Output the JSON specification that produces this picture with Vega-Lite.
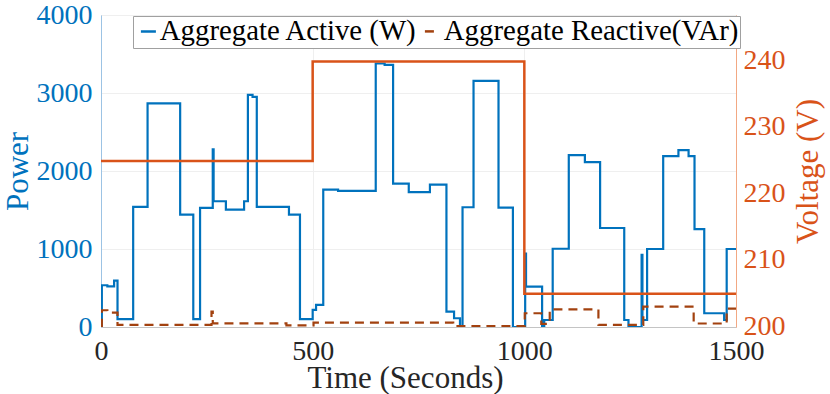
{
  "$schema": "https://vega.github.io/schema/vega-lite/v6.json",
  "autosize": {"type": "none"},
  "width": 635,
  "height": 312,
  "padding": {"left": 101, "top": 15, "right": 94, "bottom": 67},
  "background": "white",
  "datasets": {
    "power": [
      {"t": 0, "p": 0, "s": "Aggregate Active (W)"},
      {"t": 2, "p": 535, "s": "Aggregate Active (W)"},
      {"t": 15, "p": 520, "s": "Aggregate Active (W)"},
      {"t": 31, "p": 595, "s": "Aggregate Active (W)"},
      {"t": 39, "p": 100, "s": "Aggregate Active (W)"},
      {"t": 76, "p": 1540, "s": "Aggregate Active (W)"},
      {"t": 110, "p": 2868, "s": "Aggregate Active (W)"},
      {"t": 187, "p": 1440, "s": "Aggregate Active (W)"},
      {"t": 218, "p": 100, "s": "Aggregate Active (W)"},
      {"t": 234, "p": 1527, "s": "Aggregate Active (W)"},
      {"t": 264, "p": 2276, "s": "Aggregate Active (W)"},
      {"t": 266, "p": 1612, "s": "Aggregate Active (W)"},
      {"t": 295, "p": 1505, "s": "Aggregate Active (W)"},
      {"t": 338, "p": 1612, "s": "Aggregate Active (W)"},
      {"t": 347, "p": 2975, "s": "Aggregate Active (W)"},
      {"t": 358, "p": 2950, "s": "Aggregate Active (W)"},
      {"t": 368, "p": 1540, "s": "Aggregate Active (W)"},
      {"t": 444, "p": 1440, "s": "Aggregate Active (W)"},
      {"t": 470, "p": 100, "s": "Aggregate Active (W)"},
      {"t": 500, "p": 220, "s": "Aggregate Active (W)"},
      {"t": 508, "p": 283, "s": "Aggregate Active (W)"},
      {"t": 525, "p": 1762, "s": "Aggregate Active (W)"},
      {"t": 560, "p": 1745, "s": "Aggregate Active (W)"},
      {"t": 649, "p": 3378, "s": "Aggregate Active (W)"},
      {"t": 670, "p": 3360, "s": "Aggregate Active (W)"},
      {"t": 690, "p": 1839, "s": "Aggregate Active (W)"},
      {"t": 727, "p": 1728, "s": "Aggregate Active (W)"},
      {"t": 777, "p": 1826, "s": "Aggregate Active (W)"},
      {"t": 816, "p": 197, "s": "Aggregate Active (W)"},
      {"t": 834, "p": 112, "s": "Aggregate Active (W)"},
      {"t": 848, "p": 0, "s": "Aggregate Active (W)"},
      {"t": 854, "p": 1535, "s": "Aggregate Active (W)"},
      {"t": 880, "p": 3155, "s": "Aggregate Active (W)"},
      {"t": 939, "p": 1530, "s": "Aggregate Active (W)"},
      {"t": 973, "p": 0, "s": "Aggregate Active (W)"},
      {"t": 1002, "p": 940, "s": "Aggregate Active (W)"},
      {"t": 1004, "p": 518, "s": "Aggregate Active (W)"},
      {"t": 1042, "p": 0, "s": "Aggregate Active (W)"},
      {"t": 1047, "p": 90, "s": "Aggregate Active (W)"},
      {"t": 1067, "p": 1003, "s": "Aggregate Active (W)"},
      {"t": 1105, "p": 2203, "s": "Aggregate Active (W)"},
      {"t": 1143, "p": 2113, "s": "Aggregate Active (W)"},
      {"t": 1179, "p": 1269, "s": "Aggregate Active (W)"},
      {"t": 1236, "p": 90, "s": "Aggregate Active (W)"},
      {"t": 1246, "p": 0, "s": "Aggregate Active (W)"},
      {"t": 1277, "p": 926, "s": "Aggregate Active (W)"},
      {"t": 1279, "p": 90, "s": "Aggregate Active (W)"},
      {"t": 1290, "p": 1000, "s": "Aggregate Active (W)"},
      {"t": 1328, "p": 2190, "s": "Aggregate Active (W)"},
      {"t": 1364, "p": 2268, "s": "Aggregate Active (W)"},
      {"t": 1388, "p": 2190, "s": "Aggregate Active (W)"},
      {"t": 1402, "p": 1256, "s": "Aggregate Active (W)"},
      {"t": 1425, "p": 176, "s": "Aggregate Active (W)"},
      {"t": 1472, "p": 90, "s": "Aggregate Active (W)"},
      {"t": 1478, "p": 1000, "s": "Aggregate Active (W)"},
      {"t": 1500, "p": 1000, "s": "Aggregate Active (W)"},
      {"t": 0, "p": 0, "s": "Aggregate Reactive(VAr)"},
      {"t": 2, "p": 215, "s": "Aggregate Reactive(VAr)"},
      {"t": 15, "p": 185, "s": "Aggregate Reactive(VAr)"},
      {"t": 39, "p": 26, "s": "Aggregate Reactive(VAr)"},
      {"t": 261, "p": 197, "s": "Aggregate Reactive(VAr)"},
      {"t": 264, "p": 47, "s": "Aggregate Reactive(VAr)"},
      {"t": 438, "p": 22, "s": "Aggregate Reactive(VAr)"},
      {"t": 502, "p": 55, "s": "Aggregate Reactive(VAr)"},
      {"t": 832, "p": 10, "s": "Aggregate Reactive(VAr)"},
      {"t": 1001, "p": 176, "s": "Aggregate Reactive(VAr)"},
      {"t": 1040, "p": 40, "s": "Aggregate Reactive(VAr)"},
      {"t": 1060, "p": 225, "s": "Aggregate Reactive(VAr)"},
      {"t": 1175, "p": 26, "s": "Aggregate Reactive(VAr)"},
      {"t": 1281, "p": 261, "s": "Aggregate Reactive(VAr)"},
      {"t": 1400, "p": 45, "s": "Aggregate Reactive(VAr)"},
      {"t": 1478, "p": 235, "s": "Aggregate Reactive(VAr)"},
      {"t": 1500, "p": 235, "s": "Aggregate Reactive(VAr)"}
    ],
    "voltage": [
      {"t": 0, "v": 225},
      {"t": 500, "v": 240},
      {"t": 1000, "v": 205},
      {"t": 1500, "v": 205}
    ]
  },
  "layer": [
    {
      "data": {"name": "power"},
      "mark": {"type": "line", "interpolate": "step-after", "strokeWidth": 2.2, "clip": true},
      "encoding": {
        "x": {
          "field": "t", "type": "quantitative",
          "scale": {"domain": [0, 1500], "nice": false, "zero": false},
          "axis": {
            "title": "Time (Seconds)", "values": [0, 500, 1000, 1500], "format": "d",
            "grid": true, "gridColor": "#efefef",
            "labelColor": "#262626", "titleColor": "#262626",
            "domainColor": "#c4c4c4", "ticks": false, "labelPadding": 10,
            "titleX": 304, "titleY": 51, "titleBaseline": "middle", "titleAlign": "center"
          }
        },
        "y": {
          "field": "p", "type": "quantitative",
          "scale": {"domain": [0, 4000], "nice": false},
          "axis": {
            "title": "Power", "values": [0, 1000, 2000, 3000, 4000], "format": "d",
            "orient": "left", "grid": true, "gridColor": "#efefef",
            "labelColor": "#0072BD", "titleColor": "#0072BD",
            "domainColor": "#9cc3e4", "ticks": false, "labelPadding": 9,
            "titleX": -83, "titleY": 156, "titleBaseline": "middle", "titleAngle": 270, "titleAlign": "center"
          }
        },
        "color": {
          "field": "s", "type": "nominal", "title": null,
          "scale": {"domain": ["Aggregate Active (W)", "Aggregate Reactive(VAr)"], "range": ["#0072BD", "#A2410F"]}
        },
        "strokeDash": {
          "field": "s", "type": "nominal", "title": null,
          "scale": {"domain": ["Aggregate Active (W)", "Aggregate Reactive(VAr)"], "range": [[1, 0], [9, 6]]}
        }
      }
    },
    {
      "data": {"name": "voltage"},
      "mark": {"type": "line", "interpolate": "step-after", "strokeWidth": 2.5, "color": "#D95319"},
      "encoding": {
        "x": {"field": "t", "type": "quantitative"},
        "y": {
          "field": "v", "type": "quantitative",
          "scale": {"domain": [200, 247], "nice": false, "zero": false},
          "axis": {
            "title": "Voltage (V)", "orient": "right", "values": [200, 210, 220, 230, 240], "format": "d",
            "grid": false, "labelColor": "#D95319", "titleColor": "#D95319",
            "domainColor": "#f2a883", "ticks": false, "labelPadding": 7, "labelOffset": -1,
            "titleX": 72, "titleY": 156, "titleBaseline": "middle", "titleAngle": 270, "titleAlign": "center"
          }
        }
      }
    }
  ],
  "resolve": {"scale": {"y": "independent"}, "axis": {"y": "independent"}},
  "config": {
    "view": {"stroke": "#c8c8c8", "strokeWidth": 1},
    "font": "Liberation Serif, Times New Roman, serif",
    "axis": {
      "labelFont": "Liberation Serif, Times New Roman, serif", "labelFontSize": 28,
      "titleFont": "Liberation Serif, Times New Roman, serif", "titleFontSize": 31, "titleFontWeight": "normal",
      "labelFlush": false, "labelOverlap": false
    },
    "legend": {
      "orient": "none", "legendX": 32, "legendY": 1, "direction": "horizontal",
      "gridAlign": "none",
      "labelFont": "Liberation Serif, Times New Roman, serif", "labelFontSize": 28.8, "labelColor": "#000000",
      "labelLimit": 0, "symbolType": "stroke", "symbolSize": 225, "symbolStrokeWidth": 2.5,
      "padding": 1, "strokeColor": "#a0a0a0", "fillColor": "white",
      "columnPadding": 0, "labelOffset": -3
    }
  }
}
